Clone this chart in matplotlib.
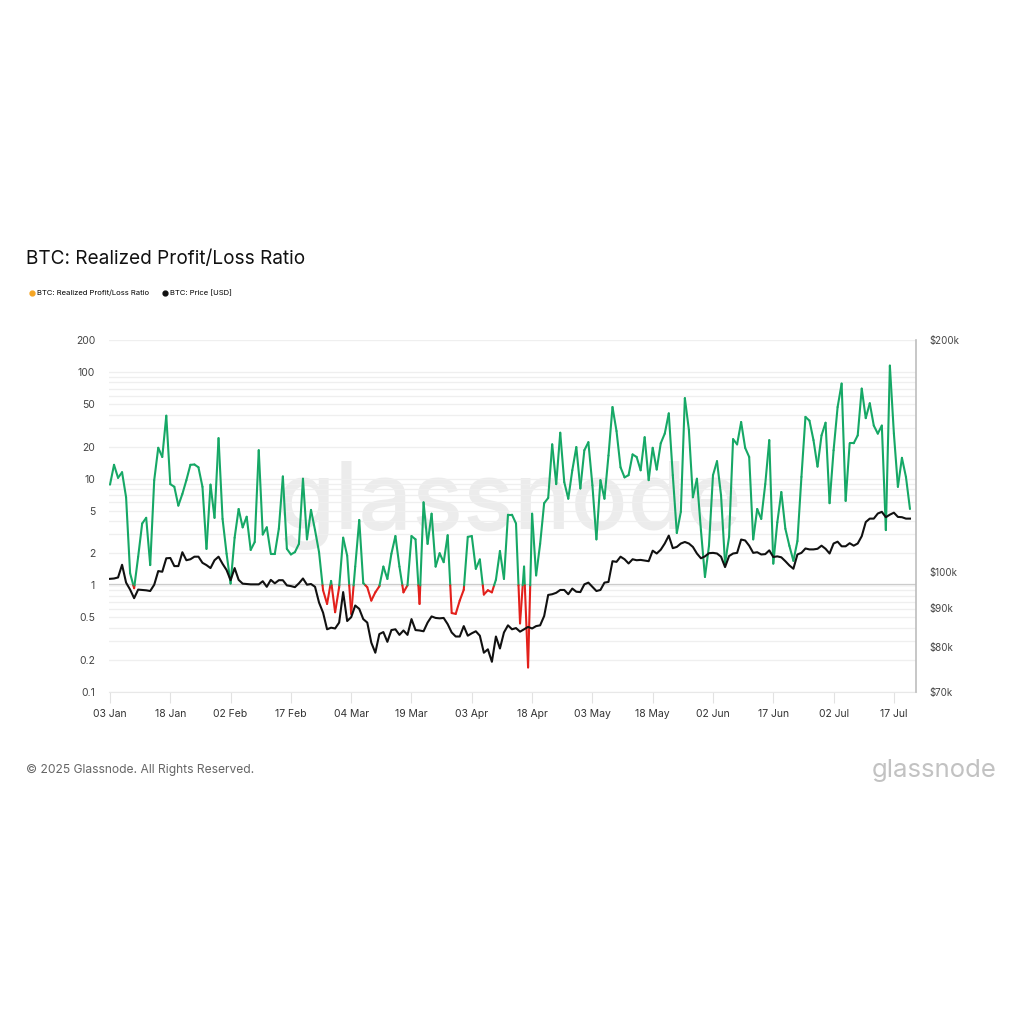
"""
BTC: Realized Profit/Loss Ratio against BTC price, glassnode-style chart.
"""

import matplotlib
matplotlib.use("Agg")
import matplotlib.pyplot as plt
import matplotlib.dates as mdates
from matplotlib.collections import LineCollection
from matplotlib.lines import Line2D
from matplotlib.ticker import FixedLocator, LogLocator, NullFormatter
import numpy as np
import pandas as pd


# ---------------------------------------------------------------------------
# Data (daily)
# ---------------------------------------------------------------------------

START_DATE = "2025-01-03"

ratio = [
    8.8, 13.5, 10.2, 11.5, 6.7, 1.3, 0.94, 1.85, 3.8, 4.3,
    1.55, 9.7, 19.5, 16, 39, 8.9, 8.4, 5.6, 7.2, 9.7,
    13.5, 13.6, 12.8, 8.4, 2.2, 8.8, 4.3, 24, 4.2, 1.98,
    1.04, 2.8, 5.2, 3.5, 4.4, 2.15, 2.55, 18.5, 3.0, 3.5,
    1.98, 1.98, 3.4, 10.5, 2.2, 1.95, 2.05, 2.45, 10, 2.7,
    5.1, 3.3, 2.05, 0.9, 0.67, 1.1, 0.56, 0.96, 2.8, 1.9,
    0.54, 1.5, 4.1, 1.05, 0.96, 0.72, 0.86, 0.98, 1.5, 1.15,
    1.98, 2.9, 1.5, 0.86, 1.0, 2.9, 2.7, 0.67, 6.0, 2.45,
    4.7, 1.5, 2.0, 1.65, 2.95, 0.55, 0.54, 0.72, 0.91, 2.85,
    2.9, 1.43, 1.75, 0.82, 0.9, 0.86, 1.13, 2.1, 1.15, 4.6,
    4.6, 3.8, 0.44, 1.5, 0.17, 4.7, 1.24, 2.45, 5.9, 6.6,
    21, 8.9, 27, 9.3, 6.5, 12, 19.8, 8.1, 18.5, 22,
    8.7, 2.7, 9.7, 6.5, 16.5, 47, 28, 12.8, 10.3, 10.8,
    16.9, 16, 12, 24.5, 9.7, 19.5, 12.2, 21.5, 26.5, 41,
    10.8, 3.1, 4.9, 57, 28.8, 6.7, 10, 3.3, 1.2, 2.35,
    10.8, 14.6, 7.0, 1.6, 2.85, 23.5, 21, 34, 19.5, 16,
    2.7, 5.2, 4.2, 8.9, 23, 1.6, 3.9, 7.5, 3.4, 2.35,
    1.7, 2.6, 10.4, 38, 35, 23, 13, 25.5, 33.5, 5.9,
    18.5, 47, 78, 6.2, 21.5, 21.5, 25.5, 70, 37, 51,
    31.5, 26.5, 31.5, 3.3, 115, 26.5, 8.4, 15.7, 10.4, 5.2,
]

price_k = [
    98.1, 98.2, 98.5, 102.3, 97, 95, 92.6, 95, 94.9, 94.8,
    94.6, 96.4, 100.4, 100.2, 104.3, 104.4, 101.9, 101.9, 106.2, 103.7,
    104, 104.8, 104.8, 102.9, 102.2, 101.3, 103.7, 104.8, 102.6, 100.7,
    97.7, 101.3, 97.8, 96.7, 96.6, 96.5, 96.5, 96.5, 97.4, 95.8,
    97.8, 96.8, 97.7, 97.7, 96.2, 96, 95.7, 96.8, 98.2, 96.4,
    96.6, 95.8, 91.4, 88.7, 84.4, 84.8, 84.6, 86.1, 94.3, 86.5,
    87.5, 90.6, 89.7, 87, 86.1, 81.1, 78.7, 83.2, 83.7, 81.3,
    84.2, 84.4, 83, 84.1, 83, 87, 84.2, 84.1, 83.9, 86.1,
    87.7, 87.3, 87.2, 87.3, 85.7, 83.6, 82.6, 82.6, 85.2, 82.8,
    83.4, 83.9, 82.8, 78.7, 79.5, 76.6, 82.6, 79.7, 83.6, 85.4,
    84.4, 84.7, 83.8, 84.4, 85, 84.6, 85.2, 85.4, 87.8, 93.5,
    93.7, 94.1, 94.9, 94.9, 93.7, 95.3, 94.4, 94.3, 96.5, 97,
    95.8, 94.6, 94.9, 97, 97.2, 103.4, 103.2, 104.8, 104, 102.7,
    104, 103.7, 103.8, 103.6, 103.4, 106.7, 105.8, 107, 109, 111.6,
    107.5, 107.9, 109, 109.5, 109, 107.9, 105.8, 104.3, 104.9, 105.9,
    106, 105.8, 104.8, 101.6, 105, 105.8, 106, 110.3, 110, 108.3,
    106, 106.2, 105.5, 105.6, 106.8, 104.7, 104.9, 104.6, 103.4, 102.1,
    101.1, 105.5, 106, 107.4, 107.1, 107.1, 107.3, 108.3, 107.3, 105.8,
    109, 109.6, 108.1, 108.1, 109.1, 108.3, 109, 111.4, 116.2, 117.4,
    117.4, 119.2, 119.8, 117.9, 118.8, 119.5, 118, 117.9, 117.4, 117.4,
]

left_ticks = [0.1, 0.2, 0.5, 1, 2, 5, 10, 20, 50, 100, 200]
left_labels = ["0.1", "0.2", "0.5", "1", "2", "5", "10", "20", "50", "100", "200"]
right_ticks = [70000, 80000, 90000, 100000, 200000]
right_labels = ["$70k", "$80k", "$90k", "$100k", "$200k"]
x_tick_dates = [
    "2025-01-03", "2025-01-18", "2025-02-02", "2025-02-17", "2025-03-04",
    "2025-03-19", "2025-04-03", "2025-04-18", "2025-05-03", "2025-05-18",
    "2025-06-02", "2025-06-17", "2025-07-02", "2025-07-17",
]

GREEN = "#16a866"
RED = "#e3201b"
ORANGE = "#f5a524"
FONT = ["Inter", "DejaVu Sans"]


# ---------------------------------------------------------------------------
# Helpers
# ---------------------------------------------------------------------------

def split_at_threshold(x, y, threshold=1.0):
    """Break the ratio line into segments, split where it crosses ``threshold``
    (in log space), coloured green above and red below."""
    ly = np.log10(np.asarray(y, dtype=float)) - np.log10(threshold)
    segs, cols = [], []
    for i in range(len(x) - 1):
        a, b = ly[i], ly[i + 1]
        if a * b < 0:
            t = a / (a - b)
            xc = x[i] + t * (x[i + 1] - x[i])
            segs.append([(x[i], y[i]), (xc, threshold)])
            cols.append(GREEN if a > 0 else RED)
            segs.append([(xc, threshold), (x[i + 1], y[i + 1])])
            cols.append(GREEN if b > 0 else RED)
        else:
            segs.append([(x[i], y[i]), (x[i + 1], y[i + 1])])
            cols.append(GREEN if a + b >= 0 else RED)
    return segs, cols


# ---------------------------------------------------------------------------
# Figure
# ---------------------------------------------------------------------------

plt.rcParams["font.family"] = FONT

dates = pd.date_range(START_DATE, periods=len(ratio), freq="D")
x = mdates.date2num(dates)
price = np.array(price_k) * 1000

fig = plt.figure(figsize=(10.24, 10.24), dpi=100, facecolor="white")
ax = fig.add_axes([109 / 1024, 1 - 692 / 1024, 807 / 1024, 352 / 1024])
ax2 = ax.twinx()
ax.patch.set_visible(False)
ax2.patch.set_visible(False)

# watermark, under everything
fig.text(0.497, 1 - 506 / 1024, "glassnode", ha="center", va="center",
         fontsize=68, color="#ececec", fontweight="medium", zorder=-1)

# ratio (left axis)
segs, cols = split_at_threshold(x, ratio)
lc = LineCollection(segs, colors=cols, linewidths=1.5, capstyle="round",
                    joinstyle="round", zorder=3)
ax.add_collection(lc)
ax.set_yscale("log")
ax.set_ylim(0.1, 200)
ax.set_xlim(x[0] - 0.25, x[0] + 200.5)
ax.yaxis.set_major_locator(FixedLocator(left_ticks))
ax.set_yticklabels(left_labels)
ax.yaxis.set_minor_locator(LogLocator(base=10, subs=np.arange(1, 10)))
ax.yaxis.set_minor_formatter(NullFormatter())
ax.tick_params(axis="y", which="both", length=0, pad=10, labelsize=7.5,
               labelcolor="#444444")
ax.grid(True, axis="y", which="both", color="#efefef", lw=0.9, zorder=0)
ax.axhline(1, color="#c8c8c8", lw=1.6, zorder=1)

ax.xaxis.set_major_locator(FixedLocator(mdates.date2num(pd.to_datetime(x_tick_dates))))
ax.xaxis.set_major_formatter(mdates.DateFormatter("%d %b"))
ax.tick_params(axis="x", length=8, width=0.8, color="#e2e2e2", pad=4,
               labelsize=7.5, labelcolor="#333333")
for side in ["top", "left", "right"]:
    ax.spines[side].set_visible(False)
ax.spines["bottom"].set_color("#e8e8e8")

# price (right axis), drawn above the ratio axes and its grid
ax2.plot(x, price, color="#111111", lw=1.5, solid_joinstyle="round")
ax2.set_yscale("log")
ax2.set_ylim(70000, 200000)
ax2.yaxis.set_major_locator(FixedLocator(right_ticks))
ax2.set_yticklabels(right_labels)
ax2.yaxis.set_minor_formatter(NullFormatter())
ax2.yaxis.set_minor_locator(FixedLocator([]))
ax2.tick_params(axis="y", length=0, pad=10, labelsize=7, labelcolor="#444444")
for side in ["top", "left", "bottom"]:
    ax2.spines[side].set_visible(False)
ax2.spines["right"].set_color("#bdbdbd")
ax2.spines["right"].set_linewidth(1.2)

# title and legend
fig.text(26 / 1024, 1 - 259 / 1024, "BTC: Realized Profit/Loss Ratio",
         fontsize=13.7, va="center", ha="left", color="#111111")
handles = [
    Line2D([], [], marker="o", linestyle="", color=ORANGE, markersize=3.5),
    Line2D([], [], marker="o", linestyle="", color="#111111", markersize=3.5),
]
fig.legend(handles, ["BTC: Realized Profit/Loss Ratio", "BTC: Price [USD]"],
           loc="center left", bbox_to_anchor=(29 / 1024, 1 - 293 / 1024),
           fontsize=5.5, frameon=False, ncol=2, handlelength=0.8,
           handletextpad=0.3, columnspacing=1.6, borderaxespad=0, borderpad=0)

# footer
fig.text(26 / 1024, 1 - 770 / 1024, "\u00a9 2025 Glassnode. All Rights Reserved.",
         fontsize=8.7, va="center", ha="left", color="#666666")
fig.text(997 / 1024, 1 - 770 / 1024, "glassnode", fontsize=18.5, va="center",
         ha="right", color="#c2c2c2")

fig.savefig("out.png", dpi=100, facecolor="white")
